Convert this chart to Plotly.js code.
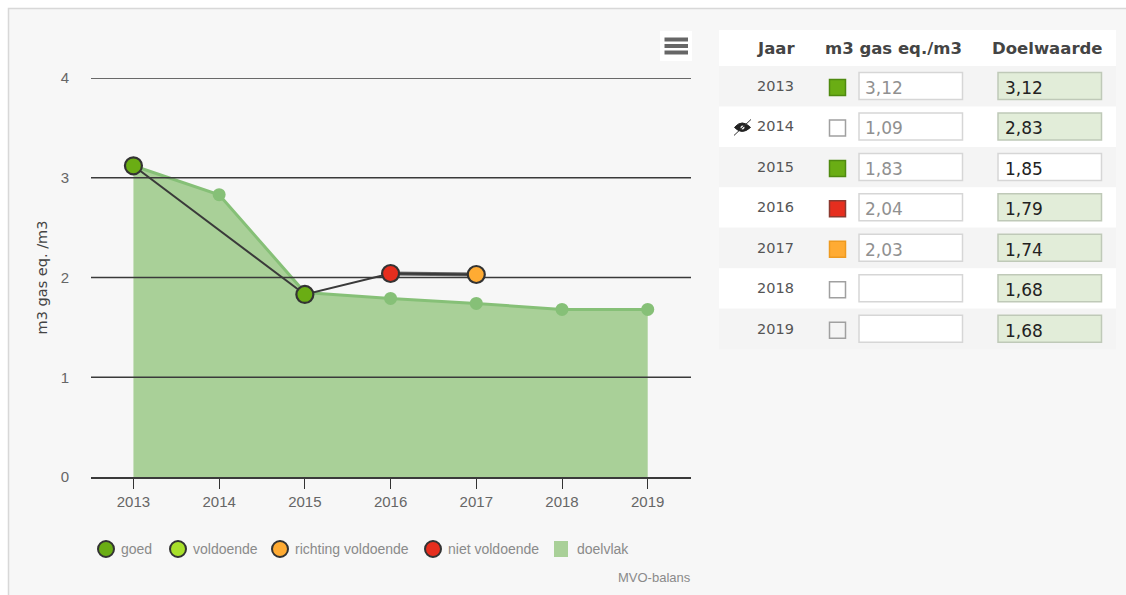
<!DOCTYPE html>
<html><head><meta charset="utf-8">
<script src="https://cdn.plot.ly/plotly-3.0.1.min.js"></script>
<style>html,body{margin:0;padding:0;background:#fff;overflow:hidden}#c{width:1126px;height:595px}</style>
</head><body><div id="c"></div>
<script>
const years=[2013,2014,2015,2016,2017,2018,2019];
const target=[3.12,2.83,1.85,1.79,1.74,1.68,1.68];
const measured=[3.12,null,1.83,2.04,2.03,null,null];
const tableMeasured=['3,12','1,09','1,83','2,04','2,03','',''];
const tableTarget=['3,12','2,83','1,85','1,79','1,74','1,68','1,68'];
const targetShaded=[true,true,false,true,true,true,true];
const statusColor=['#6aad14',null,'#6aad14','#e62e1e','#ffab33',null,null];
const hiddenYear=[false,true,false,false,false,false,false];
const gridValues=[1,2,3,4];
const legendNames=['goed','voldoende','richting voldoende','niet voldoende'];
const legendColors=['#6aad14','#a8e02a','#ffab33','#e62e1e'];
const legendArea='doelvlak';
const headers=['Jaar','m3 gas eq./m3','Doelwaarde'];

const W=1126,H=595;
const px=x=>x/W, py=y=>1-y/H;
const FONT='"DejaVu Sans", sans-serif';
const NARROW='"Liberation Sans Narrow", "Liberation Sans", sans-serif';
const shapes=[],ann=[];
function rect(x0,y0,x1,y1,fill,line,lw,layer){
  shapes.push({type:'rect',xref:'paper',yref:'paper',x0:px(x0),x1:px(x1),y0:py(y0),y1:py(y1),
    fillcolor:fill,line:{color:line||'rgba(0,0,0,0)',width:line?(lw||1):0},layer:layer||'below'});
}
function circle(cx,cy,r,fill,line,lw){
  shapes.push({type:'circle',xref:'paper',yref:'paper',x0:px(cx-r),x1:px(cx+r),y0:py(cy-r),y1:py(cy+r),
    fillcolor:fill,line:{color:line,width:lw},layer:'above'});
}
function text(x,y,t,size,color,anchor,weight,family){
  ann.push({xref:'paper',yref:'paper',x:px(x),y:py(y),text:weight?'<b>'+t+'</b>':t,showarrow:false,
    xanchor:anchor||'left',yanchor:'middle',font:{family:family||FONT,size:size,color:color}});
}
// page panel
rect(8.5,8.5,1140,610,'#f7f7f7','#d8d8d8',1.5);
// hamburger button
rect(660,31,692,61,'#ffffff');
[39.5,46,52.5].forEach(y=>shapes.push({type:'line',xref:'paper',yref:'paper',x0:px(664.5),x1:px(688),y0:py(y),y1:py(y),line:{color:'#666666',width:4},layer:'above'}));
// table
rect(719,30,1116,66,'#ffffff');
text(776,48,headers[0],16.5,'#444','center',true);
text(893.5,48,headers[1],16.5,'#444','center',true);
text(1047,48,headers[2],16.5,'#444','center',true);
const rowTop=66,rowH=40.45;
years.forEach((yr,i)=>{
  const t=rowTop+i*rowH,b=t+rowH,m=t+20;
  rect(719,t,1116,b,i%2?'#ffffff':'#f4f4f4');
  text(775,m,String(yr),14.5,'#555','center');
  const c=statusColor[i];
  const sx0=829.5,sx1=845.5,sy0=t+13.5,sy1=t+29.5;
  rect(sx0,sy0,sx1,sy1,c||(i===6?'#f4f4f4':'#ffffff'),c?(c==='#ffab33'?'#ee9a20':c==='#e62e1e'?'#8a3a30':'#4f8a10'):'#a0a0a0',1.5);
  rect(859,t+6.5,962.5,t+33.5,'#ffffff','#d6d6d6',1.5);
  if(tableMeasured[i]) text(863,m+2,tableMeasured[i],17,'#909090','left');
  rect(998,t+6.5,1101.5,t+33.5,targetShaded[i]?'#e2edd9':'#ffffff',targetShaded[i]?'#bfc9b8':'#d6d6d6',1.5);
  text(1003,m+2,tableTarget[i],17,'#222','left');
  if(hiddenYear[i]){
    shapes.push({type:'path',xref:'paper',yref:'paper',layer:'above',
      path:`M ${px(734.5)} ${py(m+1)} Q ${px(742)} ${py(m-8)} ${px(750.5)} ${py(m+1)} Q ${px(742)} ${py(m+9)} ${px(734.5)} ${py(m+1)} Z`,
      fillcolor:'#222',line:{color:'#222',width:1}});
    circle(742.5,m+1,2,'#dddddd','#dddddd',0);
    shapes.push({type:'line',xref:'paper',yref:'paper',layer:'above',x0:px(734),x1:px(751),y0:py(m+9),y1:py(m-7),line:{color:'#333',width:1}});
  }
});
// legend
const legendMarkX=[106,178,280,433];
const legendTextX=[119,191,293,446];
legendNames.forEach((n,i)=>{
  circle(legendMarkX[i],549,8,legendColors[i],'#333333',2);
  text(legendTextX[i],549,n,14,'#8a8a8a','left',false,NARROW);
});
rect(554,541,568,557,'#a9d098');
text(575,549,legendArea,14,'#8a8a8a','left',false,NARROW);
text(693,577,'MVO-balans',13,'#8a8a8a','right',false,NARROW);

const markedYears=years.filter((_,i)=>measured[i]!==null);
const markedValues=measured.filter(v=>v!==null);
const traces=[
 {x:years,y:target,type:'scatter',mode:'lines+markers',fill:'tozeroy',fillcolor:'#a9d098',
  line:{color:'#86c077',width:3},marker:{color:'#86c077',size:13},hoverinfo:'x+y',showlegend:false,name:'doelvlak'},
 {x:gridValues.flatMap(()=>[2012.5,2019.6,null]),y:gridValues.flatMap(v=>[v,v,null]),type:'scatter',mode:'lines',
  line:{color:'#3a3a3a',width:1.5},hoverinfo:'skip',showlegend:false},
 {x:markedYears.slice(-2),y:markedValues.slice(-2),type:'scatter',mode:'lines',
  line:{color:'#666666',width:4},hoverinfo:'skip',showlegend:false},
 {x:markedYears,y:markedValues,type:'scatter',mode:'lines+markers',
  line:{color:'#3a3a3a',width:2},
  marker:{color:statusColor.filter(c=>c),size:17,line:{color:'#333333',width:2.2}},hoverinfo:'x+y',showlegend:false,name:'m3 gas eq./m3'}
];
const layout={
  width:W,height:H,margin:{l:0,r:0,t:0,b:0},paper_bgcolor:'#ffffff',plot_bgcolor:'rgba(0,0,0,0)',showlegend:false,
  font:{family:FONT,size:11,color:'#555'},
  xaxis:{domain:[91/W,691/W],range:[2012.505,2019.505],tickmode:'array',tickvals:years,ticktext:years.map(String),
    ticks:'outside',ticklen:10,tickwidth:1,tickcolor:'#333',showgrid:false,zeroline:false,showline:true,linecolor:'#3a3a3a',linewidth:1.5,
    tickfont:{family:NARROW,size:15,color:'#666'},fixedrange:true},
  yaxis:{domain:[1-477/H,1-78/H],range:[0,4],tickmode:'array',tickvals:[0,1,2,3,4],ticks:'',showgrid:false,zeroline:false,showline:false,
    ticklabelstandoff:21,tickfont:{family:NARROW,size:15,color:'#666'},
    title:{text:'m3 gas eq. /m3',font:{family:FONT,size:14.5,color:'#444'},standoff:9},fixedrange:true},
  shapes:shapes,annotations:ann
};
Plotly.newPlot('c',traces,layout,{displayModeBar:false});
</script></body></html>
